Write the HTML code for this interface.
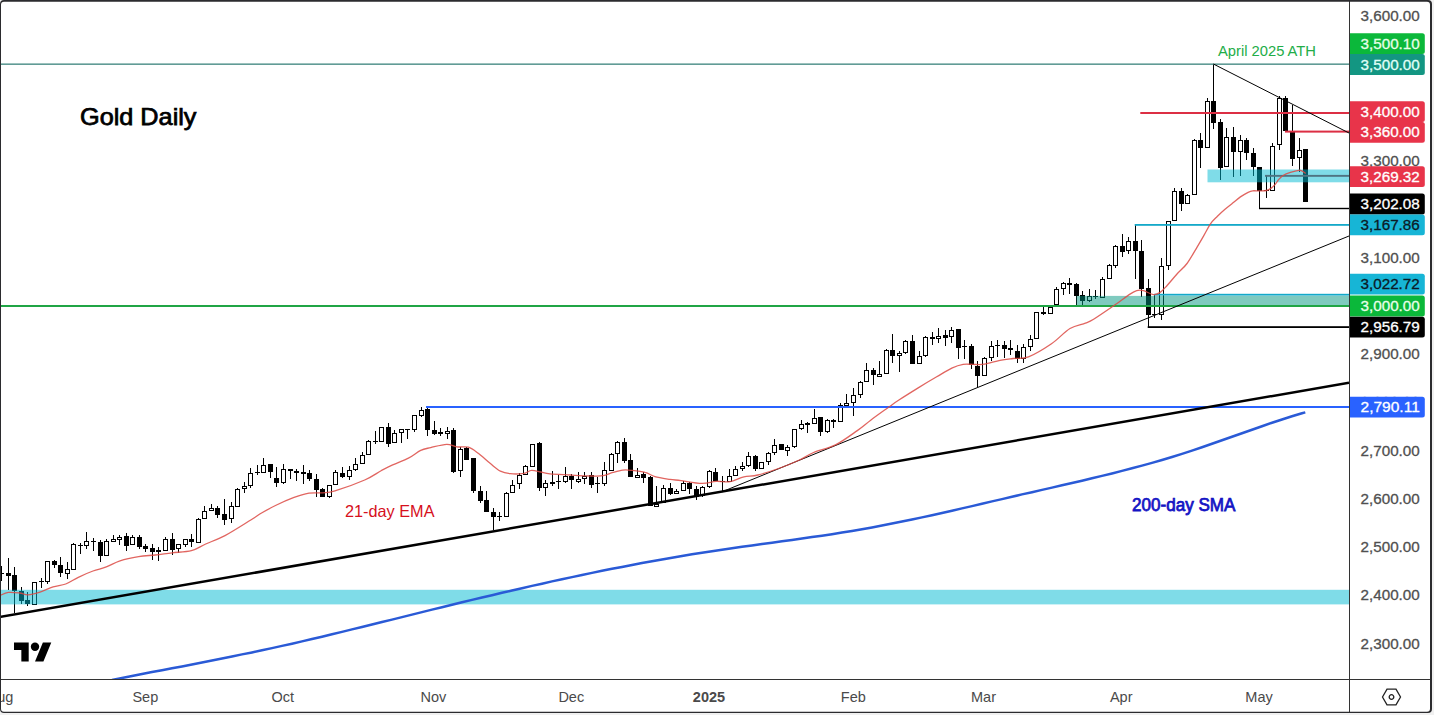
<!DOCTYPE html>
<html><head><meta charset="utf-8"><title>Gold Daily</title>
<style>html,body{margin:0;padding:0;background:#fff;} body{width:1434px;height:715px;overflow:hidden;font-family:"Liberation Sans", sans-serif;} svg{display:block;}</style>
</head><body>
<svg width="1434" height="715" viewBox="0 0 1434 715" font-family='"Liberation Sans", sans-serif'>
<rect width="1434" height="715" fill="#f0f0f0"/>
<rect x="0" y="0" width="1432" height="713" rx="4" fill="#fff"/>
<defs><clipPath id="cp"><rect x="1" y="2" width="1348" height="677"/></clipPath></defs>
<g clip-path="url(#cp)">
<g shape-rendering="crispEdges">
<rect x="1" y="566.2" width="1" height="14.5" fill="#000"/>
<rect x="-1" y="572.7" width="5" height="1.3" fill="#000"/>
<rect x="8" y="558.0" width="1" height="32.3" fill="#000"/>
<rect x="6" y="573.0" width="5" height="2.6" fill="#000"/>
<rect x="14" y="567.2" width="1" height="45.6" fill="#000"/>
<rect x="12" y="575.2" width="5" height="16.0" fill="#000"/>
<rect x="21" y="587.1" width="1" height="17.3" fill="#000"/>
<rect x="19" y="591.2" width="5" height="9.4" fill="#000"/>
<rect x="27" y="592.2" width="1" height="13.4" fill="#000"/>
<rect x="25" y="600.3" width="5" height="4.1" fill="#000"/>
<rect x="34" y="582.2" width="1" height="22.3" fill="#000"/>
<rect x="32.5" y="582.7" width="4" height="21.3" fill="#fff" stroke="#000" stroke-width="1"/>
<rect x="41" y="578.0" width="1" height="9.8" fill="#000"/>
<rect x="39" y="581.0" width="5" height="1.3" fill="#000"/>
<rect x="47" y="561.3" width="1" height="22.3" fill="#000"/>
<rect x="45.5" y="561.8" width="4" height="19.2" fill="#fff" stroke="#000" stroke-width="1"/>
<rect x="54" y="559.6" width="1" height="8.0" fill="#000"/>
<rect x="52" y="561.0" width="5" height="3.5" fill="#000"/>
<rect x="60" y="557.0" width="1" height="19.6" fill="#000"/>
<rect x="58" y="564.5" width="5" height="8.9" fill="#000"/>
<rect x="67" y="562.0" width="1" height="17.4" fill="#000"/>
<rect x="65.5" y="569.7" width="4" height="3.4" fill="#fff" stroke="#000" stroke-width="1"/>
<rect x="73" y="543.0" width="1" height="27.3" fill="#000"/>
<rect x="71.5" y="544.5" width="4" height="24.6" fill="#fff" stroke="#000" stroke-width="1"/>
<rect x="80" y="543.0" width="1" height="10.6" fill="#000"/>
<rect x="78" y="544.5" width="5" height="1.3" fill="#000"/>
<rect x="86" y="532.3" width="1" height="16.4" fill="#000"/>
<rect x="84.5" y="541.8" width="4" height="3.2" fill="#fff" stroke="#000" stroke-width="1"/>
<rect x="93" y="538.0" width="1" height="12.8" fill="#000"/>
<rect x="91" y="540.5" width="5" height="1.3" fill="#000"/>
<rect x="100" y="540.3" width="1" height="21.4" fill="#000"/>
<rect x="98" y="541.7" width="5" height="14.0" fill="#000"/>
<rect x="106" y="539.3" width="1" height="16.4" fill="#000"/>
<rect x="104.5" y="541.8" width="4" height="13.4" fill="#fff" stroke="#000" stroke-width="1"/>
<rect x="113" y="535.3" width="1" height="7.0" fill="#000"/>
<rect x="111.5" y="539.5" width="4" height="2.0" fill="#fff" stroke="#000" stroke-width="1"/>
<rect x="119" y="535.3" width="1" height="10.1" fill="#000"/>
<rect x="117.5" y="537.0" width="4" height="2.3" fill="#fff" stroke="#000" stroke-width="1"/>
<rect x="126" y="533.0" width="1" height="17.7" fill="#000"/>
<rect x="124" y="536.0" width="5" height="9.7" fill="#000"/>
<rect x="132" y="534.5" width="1" height="10.9" fill="#000"/>
<rect x="130.5" y="537.5" width="4" height="7.4" fill="#fff" stroke="#000" stroke-width="1"/>
<rect x="139" y="535.3" width="1" height="14.1" fill="#000"/>
<rect x="137" y="537.0" width="5" height="9.5" fill="#000"/>
<rect x="145" y="544.4" width="1" height="7.2" fill="#000"/>
<rect x="143" y="545.7" width="5" height="3.0" fill="#000"/>
<rect x="152" y="544.4" width="1" height="15.6" fill="#000"/>
<rect x="150" y="548.2" width="5" height="3.4" fill="#000"/>
<rect x="158" y="547.4" width="1" height="13.4" fill="#000"/>
<rect x="156" y="550.2" width="5" height="1.3" fill="#000"/>
<rect x="165" y="536.5" width="1" height="14.2" fill="#000"/>
<rect x="163.5" y="539.5" width="4" height="10.7" fill="#fff" stroke="#000" stroke-width="1"/>
<rect x="172" y="533.1" width="1" height="21.9" fill="#000"/>
<rect x="170" y="539.3" width="5" height="10.6" fill="#000"/>
<rect x="178" y="544.4" width="1" height="8.9" fill="#000"/>
<rect x="176.5" y="544.9" width="4" height="3.6" fill="#fff" stroke="#000" stroke-width="1"/>
<rect x="185" y="539.3" width="1" height="7.5" fill="#000"/>
<rect x="183.5" y="539.8" width="4" height="4.3" fill="#fff" stroke="#000" stroke-width="1"/>
<rect x="191" y="534.3" width="1" height="12.2" fill="#000"/>
<rect x="189" y="539.0" width="5" height="3.3" fill="#000"/>
<rect x="198" y="518.0" width="1" height="24.7" fill="#000"/>
<rect x="196.5" y="519.4" width="4" height="22.8" fill="#fff" stroke="#000" stroke-width="1"/>
<rect x="204" y="506.3" width="1" height="13.1" fill="#000"/>
<rect x="202.5" y="511.0" width="4" height="7.9" fill="#fff" stroke="#000" stroke-width="1"/>
<rect x="211" y="504.0" width="1" height="6.6" fill="#000"/>
<rect x="209.5" y="508.8" width="4" height="2.0" fill="#fff" stroke="#000" stroke-width="1"/>
<rect x="217" y="506.2" width="1" height="11.4" fill="#000"/>
<rect x="215" y="508.2" width="5" height="6.3" fill="#000"/>
<rect x="224" y="499.1" width="1" height="25.5" fill="#000"/>
<rect x="222" y="514.1" width="5" height="5.6" fill="#000"/>
<rect x="231" y="502.2" width="1" height="20.3" fill="#000"/>
<rect x="229.5" y="506.7" width="4" height="12.2" fill="#fff" stroke="#000" stroke-width="1"/>
<rect x="237" y="487.6" width="1" height="19.0" fill="#000"/>
<rect x="235.5" y="489.8" width="4" height="16.3" fill="#fff" stroke="#000" stroke-width="1"/>
<rect x="244" y="482.3" width="1" height="10.3" fill="#000"/>
<rect x="242.5" y="486.2" width="4" height="2.6" fill="#fff" stroke="#000" stroke-width="1"/>
<rect x="250" y="468.2" width="1" height="19.4" fill="#000"/>
<rect x="248.5" y="473.0" width="4" height="12.2" fill="#fff" stroke="#000" stroke-width="1"/>
<rect x="257" y="465.2" width="1" height="9.5" fill="#000"/>
<rect x="255" y="472.0" width="5" height="1.3" fill="#000"/>
<rect x="263" y="457.9" width="1" height="14.6" fill="#000"/>
<rect x="261.5" y="465.4" width="4" height="6.6" fill="#fff" stroke="#000" stroke-width="1"/>
<rect x="270" y="464.1" width="1" height="13.7" fill="#000"/>
<rect x="268" y="464.1" width="5" height="7.6" fill="#000"/>
<rect x="276" y="467.2" width="1" height="19.6" fill="#000"/>
<rect x="274" y="478.4" width="5" height="4.4" fill="#000"/>
<rect x="283" y="464.1" width="1" height="19.6" fill="#000"/>
<rect x="281.5" y="469.8" width="4" height="12.5" fill="#fff" stroke="#000" stroke-width="1"/>
<rect x="290" y="469.3" width="1" height="9.3" fill="#000"/>
<rect x="288" y="469.3" width="5" height="1.5" fill="#000"/>
<rect x="296" y="469.3" width="1" height="11.2" fill="#000"/>
<rect x="294" y="471.4" width="5" height="1.3" fill="#000"/>
<rect x="303" y="465.2" width="1" height="18.5" fill="#000"/>
<rect x="301" y="472.2" width="5" height="1.3" fill="#000"/>
<rect x="309" y="470.2" width="1" height="10.3" fill="#000"/>
<rect x="307" y="473.4" width="5" height="6.0" fill="#000"/>
<rect x="316" y="474.1" width="1" height="22.4" fill="#000"/>
<rect x="314" y="479.2" width="5" height="10.6" fill="#000"/>
<rect x="322" y="487.6" width="1" height="8.9" fill="#000"/>
<rect x="320" y="489.3" width="5" height="7.2" fill="#000"/>
<rect x="329" y="484.6" width="1" height="13.1" fill="#000"/>
<rect x="327.5" y="485.8" width="4" height="10.2" fill="#fff" stroke="#000" stroke-width="1"/>
<rect x="335" y="470.3" width="1" height="15.0" fill="#000"/>
<rect x="333.5" y="472.7" width="4" height="12.1" fill="#fff" stroke="#000" stroke-width="1"/>
<rect x="342" y="467.2" width="1" height="10.6" fill="#000"/>
<rect x="340" y="472.5" width="5" height="4.5" fill="#000"/>
<rect x="349" y="466.3" width="1" height="13.7" fill="#000"/>
<rect x="347.5" y="470.1" width="4" height="6.1" fill="#fff" stroke="#000" stroke-width="1"/>
<rect x="355" y="458.2" width="1" height="12.3" fill="#000"/>
<rect x="353.5" y="464.1" width="4" height="5.4" fill="#fff" stroke="#000" stroke-width="1"/>
<rect x="362" y="452.0" width="1" height="11.6" fill="#000"/>
<rect x="360.5" y="455.0" width="4" height="8.1" fill="#fff" stroke="#000" stroke-width="1"/>
<rect x="368" y="440.3" width="1" height="14.2" fill="#000"/>
<rect x="366.5" y="441.9" width="4" height="12.1" fill="#fff" stroke="#000" stroke-width="1"/>
<rect x="375" y="431.1" width="1" height="12.6" fill="#000"/>
<rect x="373" y="441.1" width="5" height="1.3" fill="#000"/>
<rect x="381" y="427.4" width="1" height="14.2" fill="#000"/>
<rect x="379.5" y="427.9" width="4" height="13.2" fill="#fff" stroke="#000" stroke-width="1"/>
<rect x="388" y="423.3" width="1" height="23.5" fill="#000"/>
<rect x="386" y="427.4" width="5" height="16.3" fill="#000"/>
<rect x="394" y="430.2" width="1" height="13.2" fill="#000"/>
<rect x="392.5" y="433.9" width="4" height="9.0" fill="#fff" stroke="#000" stroke-width="1"/>
<rect x="401" y="428.5" width="1" height="14.3" fill="#000"/>
<rect x="399.5" y="429.0" width="4" height="3.9" fill="#fff" stroke="#000" stroke-width="1"/>
<rect x="407" y="428.5" width="1" height="10.5" fill="#000"/>
<rect x="405" y="428.5" width="5" height="1.9" fill="#000"/>
<rect x="414" y="415.1" width="1" height="16.5" fill="#000"/>
<rect x="412.5" y="415.6" width="4" height="14.3" fill="#fff" stroke="#000" stroke-width="1"/>
<rect x="421" y="407.3" width="1" height="9.5" fill="#000"/>
<rect x="419.5" y="410.0" width="4" height="5.2" fill="#fff" stroke="#000" stroke-width="1"/>
<rect x="427" y="407.8" width="1" height="28.0" fill="#000"/>
<rect x="425" y="409.2" width="5" height="21.2" fill="#000"/>
<rect x="434" y="421.0" width="1" height="13.5" fill="#000"/>
<rect x="432" y="430.2" width="5" height="3.4" fill="#000"/>
<rect x="440" y="428.2" width="1" height="7.6" fill="#000"/>
<rect x="438" y="432.2" width="5" height="1.3" fill="#000"/>
<rect x="447" y="427.1" width="1" height="11.5" fill="#000"/>
<rect x="445.5" y="431.3" width="4" height="2.0" fill="#fff" stroke="#000" stroke-width="1"/>
<rect x="453" y="427.6" width="1" height="45.8" fill="#000"/>
<rect x="451" y="430.4" width="5" height="41.3" fill="#000"/>
<rect x="460" y="446.9" width="1" height="30.5" fill="#000"/>
<rect x="458.5" y="449.0" width="4" height="21.7" fill="#fff" stroke="#000" stroke-width="1"/>
<rect x="466" y="446.5" width="1" height="13.8" fill="#000"/>
<rect x="464" y="448.2" width="5" height="12.1" fill="#000"/>
<rect x="473" y="458.3" width="1" height="34.7" fill="#000"/>
<rect x="471" y="458.3" width="5" height="32.2" fill="#000"/>
<rect x="480" y="486.3" width="1" height="16.8" fill="#000"/>
<rect x="478" y="490.5" width="5" height="10.1" fill="#000"/>
<rect x="486" y="490.5" width="1" height="21.8" fill="#000"/>
<rect x="484" y="500.2" width="5" height="12.1" fill="#000"/>
<rect x="493" y="508.1" width="1" height="21.8" fill="#000"/>
<rect x="491" y="512.3" width="5" height="4.2" fill="#000"/>
<rect x="499" y="511.5" width="1" height="9.2" fill="#000"/>
<rect x="497" y="515.7" width="5" height="1.3" fill="#000"/>
<rect x="506" y="492.2" width="1" height="25.1" fill="#000"/>
<rect x="504.5" y="493.8" width="4" height="23.0" fill="#fff" stroke="#000" stroke-width="1"/>
<rect x="512" y="480.4" width="1" height="12.9" fill="#000"/>
<rect x="510.5" y="485.1" width="4" height="7.7" fill="#fff" stroke="#000" stroke-width="1"/>
<rect x="519" y="472.9" width="1" height="15.9" fill="#000"/>
<rect x="517.5" y="475.9" width="4" height="7.9" fill="#fff" stroke="#000" stroke-width="1"/>
<rect x="525" y="464.5" width="1" height="10.9" fill="#000"/>
<rect x="523.5" y="466.7" width="4" height="8.2" fill="#fff" stroke="#000" stroke-width="1"/>
<rect x="532" y="443.5" width="1" height="23.2" fill="#000"/>
<rect x="530.5" y="444.0" width="4" height="22.2" fill="#fff" stroke="#000" stroke-width="1"/>
<rect x="539" y="441.5" width="1" height="49.8" fill="#000"/>
<rect x="537" y="443.2" width="5" height="44.8" fill="#000"/>
<rect x="545" y="479.6" width="1" height="16.8" fill="#000"/>
<rect x="543.5" y="483.9" width="4" height="3.1" fill="#fff" stroke="#000" stroke-width="1"/>
<rect x="552" y="471.0" width="1" height="14.5" fill="#000"/>
<rect x="550" y="482.4" width="5" height="1.3" fill="#000"/>
<rect x="558" y="475.2" width="1" height="13.3" fill="#000"/>
<rect x="556" y="480.8" width="5" height="1.3" fill="#000"/>
<rect x="565" y="467.3" width="1" height="15.4" fill="#000"/>
<rect x="563.5" y="476.2" width="4" height="4.8" fill="#fff" stroke="#000" stroke-width="1"/>
<rect x="571" y="474.3" width="1" height="14.2" fill="#000"/>
<rect x="569" y="476.0" width="5" height="4.4" fill="#000"/>
<rect x="578" y="472.0" width="1" height="10.7" fill="#000"/>
<rect x="576.5" y="479.0" width="4" height="2.0" fill="#fff" stroke="#000" stroke-width="1"/>
<rect x="584" y="472.0" width="1" height="11.6" fill="#000"/>
<rect x="582.5" y="476.5" width="4" height="2.0" fill="#fff" stroke="#000" stroke-width="1"/>
<rect x="591" y="472.0" width="1" height="15.8" fill="#000"/>
<rect x="589" y="475.2" width="5" height="9.4" fill="#000"/>
<rect x="597" y="477.3" width="1" height="15.4" fill="#000"/>
<rect x="595" y="483.1" width="5" height="1.3" fill="#000"/>
<rect x="604" y="462.0" width="1" height="23.7" fill="#000"/>
<rect x="602.5" y="470.6" width="4" height="12.5" fill="#fff" stroke="#000" stroke-width="1"/>
<rect x="611" y="453.3" width="1" height="17.3" fill="#000"/>
<rect x="609.5" y="454.3" width="4" height="15.8" fill="#fff" stroke="#000" stroke-width="1"/>
<rect x="617" y="441.3" width="1" height="21.4" fill="#000"/>
<rect x="615.5" y="442.6" width="4" height="11.2" fill="#fff" stroke="#000" stroke-width="1"/>
<rect x="624" y="437.9" width="1" height="24.8" fill="#000"/>
<rect x="622" y="442.1" width="5" height="18.7" fill="#000"/>
<rect x="630" y="454.3" width="1" height="22.3" fill="#000"/>
<rect x="628" y="460.3" width="5" height="16.3" fill="#000"/>
<rect x="637" y="468.3" width="1" height="9.3" fill="#000"/>
<rect x="635.5" y="475.0" width="4" height="2.0" fill="#fff" stroke="#000" stroke-width="1"/>
<rect x="643" y="472.4" width="1" height="10.3" fill="#000"/>
<rect x="641" y="474.3" width="5" height="3.3" fill="#000"/>
<rect x="650" y="475.7" width="1" height="30.7" fill="#000"/>
<rect x="648" y="477.1" width="5" height="29.3" fill="#000"/>
<rect x="656" y="486.4" width="1" height="20.0" fill="#000"/>
<rect x="654.5" y="504.1" width="4" height="2.0" fill="#fff" stroke="#000" stroke-width="1"/>
<rect x="663" y="484.5" width="1" height="18.5" fill="#000"/>
<rect x="661.5" y="488.8" width="4" height="13.2" fill="#fff" stroke="#000" stroke-width="1"/>
<rect x="670" y="483.4" width="1" height="11.2" fill="#000"/>
<rect x="668" y="488.3" width="5" height="5.6" fill="#000"/>
<rect x="676" y="489.4" width="1" height="3.8" fill="#000"/>
<rect x="674.5" y="491.6" width="4" height="2.0" fill="#fff" stroke="#000" stroke-width="1"/>
<rect x="683" y="480.6" width="1" height="10.5" fill="#000"/>
<rect x="681.5" y="483.9" width="4" height="6.7" fill="#fff" stroke="#000" stroke-width="1"/>
<rect x="689" y="481.6" width="1" height="12.0" fill="#000"/>
<rect x="687" y="483.0" width="5" height="6.4" fill="#000"/>
<rect x="696" y="486.2" width="1" height="14.0" fill="#000"/>
<rect x="694" y="489.4" width="5" height="7.3" fill="#000"/>
<rect x="702" y="486.2" width="1" height="11.2" fill="#000"/>
<rect x="700.5" y="487.7" width="4" height="7.8" fill="#fff" stroke="#000" stroke-width="1"/>
<rect x="709" y="470.4" width="1" height="17.9" fill="#000"/>
<rect x="707.5" y="471.8" width="4" height="14.9" fill="#fff" stroke="#000" stroke-width="1"/>
<rect x="715" y="468.0" width="1" height="12.6" fill="#000"/>
<rect x="713" y="471.5" width="5" height="9.1" fill="#000"/>
<rect x="722" y="475.5" width="1" height="15.3" fill="#000"/>
<rect x="720" y="480.8" width="5" height="1.3" fill="#000"/>
<rect x="729" y="468.5" width="1" height="13.5" fill="#000"/>
<rect x="727.5" y="476.9" width="4" height="4.6" fill="#fff" stroke="#000" stroke-width="1"/>
<rect x="735" y="465.7" width="1" height="10.7" fill="#000"/>
<rect x="733.5" y="469.9" width="4" height="6.0" fill="#fff" stroke="#000" stroke-width="1"/>
<rect x="742" y="461.5" width="1" height="9.8" fill="#000"/>
<rect x="740.5" y="466.2" width="4" height="2.7" fill="#fff" stroke="#000" stroke-width="1"/>
<rect x="748" y="452.2" width="1" height="14.9" fill="#000"/>
<rect x="746.5" y="456.7" width="4" height="8.8" fill="#fff" stroke="#000" stroke-width="1"/>
<rect x="755" y="454.5" width="1" height="16.8" fill="#000"/>
<rect x="753" y="456.2" width="5" height="13.2" fill="#000"/>
<rect x="761" y="462.0" width="1" height="7.4" fill="#000"/>
<rect x="759.5" y="462.5" width="4" height="6.4" fill="#fff" stroke="#000" stroke-width="1"/>
<rect x="768" y="452.0" width="1" height="13.2" fill="#000"/>
<rect x="766.5" y="453.6" width="4" height="8.3" fill="#fff" stroke="#000" stroke-width="1"/>
<rect x="774" y="439.4" width="1" height="15.9" fill="#000"/>
<rect x="772.5" y="445.1" width="4" height="7.7" fill="#fff" stroke="#000" stroke-width="1"/>
<rect x="781" y="444.4" width="1" height="6.0" fill="#000"/>
<rect x="779" y="444.4" width="5" height="6.0" fill="#000"/>
<rect x="787" y="444.9" width="1" height="10.6" fill="#000"/>
<rect x="785.5" y="447.9" width="4" height="2.4" fill="#fff" stroke="#000" stroke-width="1"/>
<rect x="794" y="429.3" width="1" height="19.0" fill="#000"/>
<rect x="792.5" y="429.8" width="4" height="17.1" fill="#fff" stroke="#000" stroke-width="1"/>
<rect x="801" y="420.2" width="1" height="10.1" fill="#000"/>
<rect x="799.5" y="424.9" width="4" height="3.9" fill="#fff" stroke="#000" stroke-width="1"/>
<rect x="807" y="422.2" width="1" height="11.0" fill="#000"/>
<rect x="805" y="423.4" width="5" height="1.3" fill="#000"/>
<rect x="814" y="409.2" width="1" height="15.1" fill="#000"/>
<rect x="812.5" y="418.0" width="4" height="5.8" fill="#fff" stroke="#000" stroke-width="1"/>
<rect x="820" y="416.9" width="1" height="18.8" fill="#000"/>
<rect x="818" y="416.9" width="5" height="14.6" fill="#000"/>
<rect x="827" y="419.2" width="1" height="14.0" fill="#000"/>
<rect x="825.5" y="420.7" width="4" height="10.8" fill="#fff" stroke="#000" stroke-width="1"/>
<rect x="833" y="418.9" width="1" height="9.2" fill="#000"/>
<rect x="831" y="420.2" width="5" height="2.0" fill="#000"/>
<rect x="840" y="403.4" width="1" height="18.8" fill="#000"/>
<rect x="838.5" y="405.6" width="4" height="16.1" fill="#fff" stroke="#000" stroke-width="1"/>
<rect x="846" y="394.0" width="1" height="11.5" fill="#000"/>
<rect x="844.5" y="403.9" width="4" height="2.0" fill="#fff" stroke="#000" stroke-width="1"/>
<rect x="853" y="388.3" width="1" height="27.2" fill="#000"/>
<rect x="851.5" y="395.6" width="4" height="7.3" fill="#fff" stroke="#000" stroke-width="1"/>
<rect x="860" y="381.1" width="1" height="17.3" fill="#000"/>
<rect x="858.5" y="382.5" width="4" height="12.1" fill="#fff" stroke="#000" stroke-width="1"/>
<rect x="866" y="363.2" width="1" height="18.8" fill="#000"/>
<rect x="864.5" y="370.7" width="4" height="10.8" fill="#fff" stroke="#000" stroke-width="1"/>
<rect x="873" y="367.7" width="1" height="17.6" fill="#000"/>
<rect x="871" y="370.2" width="5" height="5.0" fill="#000"/>
<rect x="879" y="361.0" width="1" height="14.6" fill="#000"/>
<rect x="877.5" y="374.1" width="4" height="2.0" fill="#fff" stroke="#000" stroke-width="1"/>
<rect x="886" y="349.2" width="1" height="25.2" fill="#000"/>
<rect x="884.5" y="350.7" width="4" height="22.8" fill="#fff" stroke="#000" stroke-width="1"/>
<rect x="892" y="333.9" width="1" height="28.7" fill="#000"/>
<rect x="890" y="350.3" width="5" height="5.3" fill="#000"/>
<rect x="899" y="350.6" width="1" height="21.1" fill="#000"/>
<rect x="897.5" y="353.1" width="4" height="2.0" fill="#fff" stroke="#000" stroke-width="1"/>
<rect x="905" y="340.2" width="1" height="13.3" fill="#000"/>
<rect x="903.5" y="341.4" width="4" height="10.9" fill="#fff" stroke="#000" stroke-width="1"/>
<rect x="912" y="335.2" width="1" height="29.2" fill="#000"/>
<rect x="910" y="341.2" width="5" height="23.0" fill="#000"/>
<rect x="919" y="351.3" width="1" height="13.1" fill="#000"/>
<rect x="917.5" y="356.1" width="4" height="7.3" fill="#fff" stroke="#000" stroke-width="1"/>
<rect x="925" y="336.4" width="1" height="20.8" fill="#000"/>
<rect x="923.5" y="337.6" width="4" height="17.5" fill="#fff" stroke="#000" stroke-width="1"/>
<rect x="932" y="332.4" width="1" height="12.2" fill="#000"/>
<rect x="930" y="337.2" width="5" height="1.3" fill="#000"/>
<rect x="938" y="328.3" width="1" height="14.2" fill="#000"/>
<rect x="936.5" y="336.3" width="4" height="2.0" fill="#fff" stroke="#000" stroke-width="1"/>
<rect x="945" y="330.2" width="1" height="15.3" fill="#000"/>
<rect x="943" y="335.4" width="5" height="2.1" fill="#000"/>
<rect x="951" y="327.4" width="1" height="16.0" fill="#000"/>
<rect x="949.5" y="330.0" width="4" height="6.6" fill="#fff" stroke="#000" stroke-width="1"/>
<rect x="958" y="328.6" width="1" height="30.8" fill="#000"/>
<rect x="956" y="328.9" width="5" height="18.6" fill="#000"/>
<rect x="964" y="340.2" width="1" height="18.3" fill="#000"/>
<rect x="962" y="346.0" width="5" height="1.3" fill="#000"/>
<rect x="971" y="344.0" width="1" height="25.2" fill="#000"/>
<rect x="969" y="345.9" width="5" height="19.3" fill="#000"/>
<rect x="977" y="361.4" width="1" height="25.4" fill="#000"/>
<rect x="975" y="366.0" width="5" height="9.5" fill="#000"/>
<rect x="984" y="357.2" width="1" height="18.3" fill="#000"/>
<rect x="982.5" y="358.4" width="4" height="16.6" fill="#fff" stroke="#000" stroke-width="1"/>
<rect x="991" y="340.9" width="1" height="20.5" fill="#000"/>
<rect x="989.5" y="346.9" width="4" height="10.9" fill="#fff" stroke="#000" stroke-width="1"/>
<rect x="997" y="340.0" width="1" height="16.6" fill="#000"/>
<rect x="995" y="344.8" width="5" height="1.3" fill="#000"/>
<rect x="1004" y="341.2" width="1" height="16.5" fill="#000"/>
<rect x="1002" y="345.4" width="5" height="3.8" fill="#000"/>
<rect x="1010" y="340.0" width="1" height="15.4" fill="#000"/>
<rect x="1008" y="348.4" width="5" height="1.3" fill="#000"/>
<rect x="1017" y="345.4" width="1" height="17.7" fill="#000"/>
<rect x="1015" y="350.5" width="5" height="8.0" fill="#000"/>
<rect x="1023" y="344.3" width="1" height="18.8" fill="#000"/>
<rect x="1021.5" y="347.9" width="4" height="10.1" fill="#fff" stroke="#000" stroke-width="1"/>
<rect x="1030" y="335.4" width="1" height="15.1" fill="#000"/>
<rect x="1028.5" y="339.0" width="4" height="7.9" fill="#fff" stroke="#000" stroke-width="1"/>
<rect x="1036" y="311.5" width="1" height="27.0" fill="#000"/>
<rect x="1034.5" y="312.0" width="4" height="26.0" fill="#fff" stroke="#000" stroke-width="1"/>
<rect x="1043" y="304.6" width="1" height="10.8" fill="#000"/>
<rect x="1041" y="311.5" width="5" height="2.3" fill="#000"/>
<rect x="1050" y="306.9" width="1" height="7.3" fill="#000"/>
<rect x="1048.5" y="307.4" width="4" height="5.9" fill="#fff" stroke="#000" stroke-width="1"/>
<rect x="1056" y="287.4" width="1" height="17.5" fill="#000"/>
<rect x="1054.5" y="289.7" width="4" height="14.7" fill="#fff" stroke="#000" stroke-width="1"/>
<rect x="1063" y="281.5" width="1" height="13.1" fill="#000"/>
<rect x="1061.5" y="283.9" width="4" height="4.8" fill="#fff" stroke="#000" stroke-width="1"/>
<rect x="1069" y="278.2" width="1" height="15.3" fill="#000"/>
<rect x="1067" y="283.3" width="5" height="1.3" fill="#000"/>
<rect x="1076" y="283.0" width="1" height="21.9" fill="#000"/>
<rect x="1074" y="283.8" width="5" height="11.9" fill="#000"/>
<rect x="1082" y="290.5" width="1" height="14.1" fill="#000"/>
<rect x="1080" y="295.2" width="5" height="5.6" fill="#000"/>
<rect x="1089" y="289.2" width="1" height="12.6" fill="#000"/>
<rect x="1087.5" y="296.7" width="4" height="3.6" fill="#fff" stroke="#000" stroke-width="1"/>
<rect x="1095" y="290.0" width="1" height="9.2" fill="#000"/>
<rect x="1093" y="295.7" width="5" height="1.3" fill="#000"/>
<rect x="1102" y="277.2" width="1" height="20.4" fill="#000"/>
<rect x="1100.5" y="279.5" width="4" height="17.6" fill="#fff" stroke="#000" stroke-width="1"/>
<rect x="1109" y="264.0" width="1" height="15.0" fill="#000"/>
<rect x="1107.5" y="265.6" width="4" height="12.9" fill="#fff" stroke="#000" stroke-width="1"/>
<rect x="1115" y="244.5" width="1" height="23.3" fill="#000"/>
<rect x="1113.5" y="246.5" width="4" height="18.5" fill="#fff" stroke="#000" stroke-width="1"/>
<rect x="1122" y="233.9" width="1" height="23.2" fill="#000"/>
<rect x="1120" y="245.9" width="5" height="5.6" fill="#000"/>
<rect x="1128" y="237.1" width="1" height="16.8" fill="#000"/>
<rect x="1126.5" y="241.4" width="4" height="9.3" fill="#fff" stroke="#000" stroke-width="1"/>
<rect x="1135" y="225.2" width="1" height="53.8" fill="#000"/>
<rect x="1133" y="240.9" width="5" height="10.3" fill="#000"/>
<rect x="1141" y="240.0" width="1" height="57.3" fill="#000"/>
<rect x="1139" y="251.2" width="5" height="37.4" fill="#000"/>
<rect x="1148" y="279.1" width="1" height="48.2" fill="#000"/>
<rect x="1146" y="288.2" width="5" height="26.3" fill="#000"/>
<rect x="1154" y="294.5" width="1" height="23.2" fill="#000"/>
<rect x="1152" y="314.0" width="5" height="1.3" fill="#000"/>
<rect x="1161" y="258.4" width="1" height="61.1" fill="#000"/>
<rect x="1159.5" y="266.7" width="4" height="47.3" fill="#fff" stroke="#000" stroke-width="1"/>
<rect x="1168" y="221.4" width="1" height="48.6" fill="#000"/>
<rect x="1166.5" y="221.9" width="4" height="43.8" fill="#fff" stroke="#000" stroke-width="1"/>
<rect x="1174" y="187.8" width="1" height="33.6" fill="#000"/>
<rect x="1172.5" y="191.7" width="4" height="29.2" fill="#fff" stroke="#000" stroke-width="1"/>
<rect x="1181" y="187.8" width="1" height="23.5" fill="#000"/>
<rect x="1179" y="191.2" width="5" height="13.0" fill="#000"/>
<rect x="1187" y="193.5" width="1" height="10.6" fill="#000"/>
<rect x="1185.5" y="195.7" width="4" height="7.9" fill="#fff" stroke="#000" stroke-width="1"/>
<rect x="1194" y="139.3" width="1" height="55.9" fill="#000"/>
<rect x="1192.5" y="140.5" width="4" height="54.2" fill="#fff" stroke="#000" stroke-width="1"/>
<rect x="1200" y="132.6" width="1" height="35.8" fill="#000"/>
<rect x="1198" y="140.0" width="5" height="8.3" fill="#000"/>
<rect x="1207" y="98.0" width="1" height="50.3" fill="#000"/>
<rect x="1205.5" y="101.7" width="4" height="46.1" fill="#fff" stroke="#000" stroke-width="1"/>
<rect x="1213" y="64.0" width="1" height="64.5" fill="#000"/>
<rect x="1211" y="100.8" width="5" height="21.7" fill="#000"/>
<rect x="1220" y="119.2" width="1" height="60.4" fill="#000"/>
<rect x="1218" y="122.1" width="5" height="45.6" fill="#000"/>
<rect x="1226" y="128.2" width="1" height="39.1" fill="#000"/>
<rect x="1224.5" y="137.6" width="4" height="29.2" fill="#fff" stroke="#000" stroke-width="1"/>
<rect x="1233" y="127.0" width="1" height="50.3" fill="#000"/>
<rect x="1231" y="137.1" width="5" height="15.0" fill="#000"/>
<rect x="1240" y="134.9" width="1" height="40.9" fill="#000"/>
<rect x="1238.5" y="140.5" width="4" height="11.1" fill="#fff" stroke="#000" stroke-width="1"/>
<rect x="1246" y="138.2" width="1" height="21.9" fill="#000"/>
<rect x="1244" y="140.0" width="5" height="13.4" fill="#000"/>
<rect x="1253" y="148.1" width="1" height="28.2" fill="#000"/>
<rect x="1251" y="153.4" width="5" height="13.7" fill="#000"/>
<rect x="1259" y="167.1" width="1" height="41.3" fill="#000"/>
<rect x="1257" y="167.1" width="5" height="23.9" fill="#000"/>
<rect x="1266" y="176.2" width="1" height="21.5" fill="#000"/>
<rect x="1264" y="189.9" width="5" height="1.3" fill="#000"/>
<rect x="1272" y="143.0" width="1" height="47.8" fill="#000"/>
<rect x="1270.5" y="146.1" width="4" height="44.2" fill="#fff" stroke="#000" stroke-width="1"/>
<rect x="1279" y="96.0" width="1" height="53.5" fill="#000"/>
<rect x="1277.5" y="98.5" width="4" height="46.0" fill="#fff" stroke="#000" stroke-width="1"/>
<rect x="1285" y="96.0" width="1" height="34.5" fill="#000"/>
<rect x="1283" y="98.0" width="5" height="32.5" fill="#000"/>
<rect x="1292" y="105.0" width="1" height="60.7" fill="#000"/>
<rect x="1290" y="130.5" width="5" height="28.1" fill="#000"/>
<rect x="1299" y="138.1" width="1" height="34.1" fill="#000"/>
<rect x="1297.5" y="150.1" width="4" height="7.7" fill="#fff" stroke="#000" stroke-width="1"/>
<rect x="1305" y="149.0" width="1" height="52.9" fill="#000"/>
<rect x="1303" y="149.0" width="5" height="52.9" fill="#000"/>
</g>
<rect x="0" y="589.8" width="1349" height="14.6" fill="rgb(0,185,209)" fill-opacity="0.5"/>
<rect x="1207.5" y="169.5" width="142" height="12.8" fill="rgb(0,185,209)" fill-opacity="0.5"/>
<rect x="1076.5" y="295.9" width="273" height="9.6" fill="rgb(0,150,128)" fill-opacity="0.5"/>
<rect x="0" y="63.5" width="1349" height="1.3" fill="#3b837d"/>
<rect x="0" y="305" width="1349" height="2" fill="#20a545"/>
<rect x="426" y="406" width="923" height="2" fill="#2962ff"/>
<rect x="1140.3" y="112" width="209" height="2" fill="#dc2f44"/>
<rect x="1285" y="130.6" width="64" height="2" fill="#dc2f44"/>
<rect x="1265" y="174.9" width="84" height="1.9" fill="#4e7482"/>
<rect x="1259" y="207.8" width="90" height="1.4" fill="#000"/>
<rect x="1134.7" y="224" width="214.3" height="1.8" fill="#14a9c9"/>
<rect x="1154" y="293.8" width="195" height="1.8" fill="#14a9c9"/>
<rect x="1147.7" y="326.2" width="201.3" height="1.8" fill="#000"/>
<line x1="0" y1="617" x2="1349" y2="382.7" stroke="#000" stroke-width="2.5"/>
<line x1="722" y1="491.8" x2="1349" y2="236" stroke="#000" stroke-width="1"/>
<line x1="1213.4" y1="64" x2="1349" y2="133" stroke="#000" stroke-width="1"/>
<polyline points="112.0,679.9 122.0,678.0 132.0,676.0 142.0,674.1 152.0,672.1 162.0,670.2 172.0,668.3 182.0,666.4 192.0,664.4 202.0,662.5 212.0,660.5 222.0,658.5 232.0,656.5 242.0,654.4 252.0,652.4 262.0,650.2 272.0,648.1 282.0,645.9 292.0,643.7 302.0,641.4 312.0,639.0 322.0,636.7 332.0,634.3 342.0,631.9 352.0,629.4 362.0,627.0 372.0,624.5 382.0,622.0 392.0,619.6 402.0,617.1 412.0,614.6 422.0,612.1 432.0,609.6 442.0,607.2 452.0,604.7 462.0,602.3 472.0,599.9 482.0,597.5 492.0,595.2 502.0,592.8 512.0,590.5 522.0,588.2 532.0,585.9 542.0,583.7 552.0,581.4 562.0,579.2 572.0,577.1 582.0,575.0 592.0,572.9 602.0,570.8 612.0,568.8 622.0,566.9 632.0,564.9 642.0,563.0 652.0,561.2 662.0,559.4 672.0,557.7 682.0,556.0 692.0,554.3 702.0,552.7 712.0,551.2 722.0,549.7 732.0,548.3 742.0,546.8 752.0,545.5 762.0,544.1 772.0,542.7 782.0,541.3 792.0,540.0 802.0,538.6 812.0,537.1 822.0,535.7 832.0,534.2 842.0,532.6 852.0,531.0 862.0,529.3 872.0,527.5 882.0,525.6 892.0,523.6 902.0,521.6 912.0,519.5 922.0,517.4 932.0,515.2 942.0,513.0 952.0,510.7 962.0,508.4 972.0,506.1 982.0,503.7 992.0,501.4 1002.0,499.1 1012.0,496.8 1022.0,494.4 1032.0,492.2 1042.0,489.9 1052.0,487.6 1062.0,485.3 1072.0,483.0 1082.0,480.7 1092.0,478.3 1102.0,475.9 1112.0,473.5 1122.0,470.9 1132.0,468.3 1142.0,465.6 1152.0,462.9 1162.0,460.0 1172.0,457.0 1182.0,453.9 1192.0,450.6 1202.0,447.3 1212.0,443.8 1222.0,440.3 1232.0,436.7 1242.0,433.2 1252.0,429.7 1262.0,426.2 1272.0,422.8 1282.0,419.5 1292.0,416.3 1302.0,413.3 1305.3,412.4" fill="none" stroke="#2a5ad6" stroke-width="2.5" stroke-linejoin="round"/>
<path d="M0.0,595.5 C1.4,595.0 5.1,592.8 8.4,592.4 C11.7,592.0 16.3,592.6 19.6,593.0 C22.9,593.4 24.7,594.9 28.0,594.8 C31.3,594.7 35.0,593.7 39.2,592.4 C43.4,591.1 48.7,588.3 53.1,586.9 C57.5,585.5 61.5,585.6 65.7,584.0 C69.9,582.4 73.8,579.5 78.3,577.3 C82.8,575.1 88.3,572.7 93.0,571.0 C97.7,569.3 101.8,568.6 106.3,566.9 C110.8,565.2 114.6,562.5 120.0,560.8 C125.4,559.1 132.7,557.6 138.6,556.6 C144.5,555.6 149.7,555.6 155.3,555.0 C160.9,554.4 166.1,553.5 172.1,552.8 C178.1,552.1 185.8,552.2 191.4,550.7 C197.0,549.2 200.1,546.5 205.7,544.0 C211.3,541.5 217.5,539.6 225.0,535.6 C232.5,531.6 244.6,523.8 250.8,520.0 C257.0,516.2 257.9,515.2 262.0,512.8 C266.1,510.4 270.3,508.0 275.5,505.5 C280.7,503.0 287.8,499.8 293.4,497.7 C299.0,495.6 304.1,494.0 309.0,493.2 C313.9,492.4 318.2,493.2 322.5,492.8 C326.8,492.4 328.0,493.0 335.0,490.9 C342.0,488.8 356.9,483.4 364.7,480.0 C372.4,476.6 376.8,473.0 381.5,470.5 C386.2,468.0 388.2,466.9 392.7,464.9 C397.2,462.8 403.7,460.6 408.4,458.2 C413.1,455.8 417.0,452.2 420.7,450.4 C424.4,448.6 426.4,448.6 430.7,447.6 C435.0,446.6 442.3,444.4 446.7,444.3 C451.1,444.2 453.2,446.4 456.8,446.9 C460.4,447.4 464.9,446.1 468.5,447.2 C472.1,448.3 475.0,450.9 478.6,453.6 C482.2,456.3 486.8,460.7 490.4,463.6 C494.0,466.5 497.0,469.5 500.4,471.2 C503.8,472.9 506.6,473.3 510.5,473.7 C514.4,474.1 520.4,473.9 523.9,473.4 C527.4,472.8 528.7,470.6 531.5,470.4 C534.3,470.2 537.6,471.4 540.7,472.0 C543.8,472.6 545.0,473.3 550.0,473.8 C555.0,474.3 564.0,474.6 571.0,475.0 C578.0,475.4 586.6,475.9 592.0,476.0 C597.4,476.1 599.6,476.3 603.1,475.7 C606.6,475.1 609.7,473.3 613.0,472.4 C616.3,471.5 619.7,470.5 622.7,470.1 C625.7,469.8 627.4,469.9 631.1,470.3 C634.8,470.7 641.1,471.3 645.1,472.4 C649.1,473.4 650.8,475.4 654.9,476.6 C659.0,477.8 665.6,478.7 670.0,479.4 C674.4,480.1 675.7,479.9 681.0,480.6 C686.3,481.3 696.2,483.3 702.0,483.4 C707.8,483.5 711.3,481.6 716.0,481.3 C720.7,481.0 725.4,482.3 730.0,481.6 C734.6,480.9 739.2,478.0 743.9,476.9 C748.5,475.8 751.9,476.5 757.9,475.0 C763.9,473.5 773.1,470.5 780.0,468.0 C786.9,465.5 793.8,462.6 799.4,460.0 C805.0,457.4 807.6,455.0 813.6,452.5 C819.6,450.0 828.2,448.5 835.5,444.9 C842.8,441.2 851.4,434.7 857.3,430.6 C863.2,426.5 865.4,424.2 870.7,420.2 C876.0,416.2 884.5,410.2 889.2,406.8 C893.9,403.4 894.1,403.1 898.9,400.0 C903.7,396.9 911.5,392.0 917.8,388.1 C924.1,384.2 931.0,380.1 936.7,376.8 C942.4,373.5 947.4,370.3 951.8,368.2 C956.2,366.1 959.5,365.0 963.1,364.4 C966.7,363.8 969.6,364.4 973.2,364.4 C976.8,364.4 980.0,364.9 984.5,364.2 C989.0,363.5 995.2,361.3 1000.0,360.4 C1004.8,359.4 1008.2,359.1 1013.0,358.5 C1017.8,357.9 1022.1,359.3 1028.5,356.9 C1034.9,354.4 1044.6,348.5 1051.5,343.8 C1058.4,339.1 1064.3,331.9 1070.0,328.5 C1075.7,325.1 1081.5,324.7 1085.4,323.1 C1089.3,321.6 1088.9,322.1 1093.6,319.2 C1098.3,316.3 1107.6,309.9 1113.7,305.7 C1119.8,301.5 1126.2,296.6 1130.0,294.1 C1133.8,291.6 1134.5,291.2 1136.7,290.6 C1138.9,290.0 1140.6,290.0 1143.4,290.7 C1146.2,291.4 1150.7,294.3 1153.5,294.6 C1156.3,294.9 1158.0,293.9 1160.2,292.4 C1162.4,290.9 1164.1,288.8 1166.9,285.7 C1169.7,282.6 1173.7,277.7 1177.0,274.0 C1180.3,270.3 1183.7,268.0 1187.0,263.5 C1190.3,259.0 1194.3,251.8 1197.1,247.1 C1199.9,242.4 1201.6,239.5 1203.8,235.6 C1206.0,231.7 1208.3,227.0 1210.5,223.8 C1212.7,220.6 1214.8,218.9 1217.2,216.5 C1219.6,214.1 1222.4,211.4 1225.0,209.2 C1227.6,207.0 1230.1,205.1 1232.7,203.1 C1235.3,201.1 1237.8,198.7 1240.4,196.9 C1243.0,195.1 1246.0,193.3 1248.1,192.3 C1250.1,191.3 1250.8,191.0 1252.7,190.8 C1254.6,190.6 1257.3,191.0 1259.6,190.9 C1261.9,190.8 1264.6,191.0 1266.5,190.5 C1268.4,190.0 1269.8,189.1 1271.2,188.1 C1272.6,187.1 1273.7,186.0 1275.0,184.6 C1276.3,183.2 1277.4,181.0 1278.8,179.4 C1280.2,177.8 1281.6,176.4 1283.5,175.2 C1285.4,174.0 1287.9,173.2 1290.4,172.4 C1293.0,171.6 1296.9,170.6 1298.8,170.3 C1300.7,170.1 1300.7,170.4 1301.9,170.9 C1303.1,171.4 1305.2,173.1 1305.8,173.5" fill="none" stroke="#dc4a44" stroke-opacity="0.85" stroke-width="1.3" stroke-linejoin="round"/>
</g>
<text x="80" y="124.5" font-size="23.6" fill="#000" stroke="#000" stroke-width="0.75" textLength="116.5" lengthAdjust="spacingAndGlyphs">Gold Daily</text>
<text x="345" y="517" font-size="16.5" fill="#d6101c" textLength="89.5" lengthAdjust="spacingAndGlyphs">21-day EMA</text>
<text x="1132" y="511" font-size="17.6" fill="#1414c4" stroke="#1414c4" stroke-width="0.75" textLength="103.5" lengthAdjust="spacingAndGlyphs">200-day SMA</text>
<text x="1218" y="55.8" font-size="14.5" fill="#22ad48" textLength="98" lengthAdjust="spacingAndGlyphs">April 2025 ATH</text>
<g transform="translate(14,638.4) scale(1.05)" fill="#000"><path d="M14 22H7V11H0V4h14v18zM28 22h-8l7.5-18h8L28 22z"/><circle cx="20" cy="8" r="4"/></g>
<rect x="1349" y="1" width="1" height="711" fill="#333"/>
<rect x="1" y="679" width="1430" height="1" fill="#333"/>
<text x="1419.8" y="21.2" text-anchor="end" fill="#505050" font-size="15.5" stroke="#505050" stroke-width="0.3" textLength="59.3" lengthAdjust="spacingAndGlyphs">3,600.00</text>
<text x="1419.8" y="166.0" text-anchor="end" fill="#505050" font-size="15.5" stroke="#505050" stroke-width="0.3" textLength="59.3" lengthAdjust="spacingAndGlyphs">3,300.00</text>
<text x="1419.8" y="262.5" text-anchor="end" fill="#505050" font-size="15.5" stroke="#505050" stroke-width="0.3" textLength="59.3" lengthAdjust="spacingAndGlyphs">3,100.00</text>
<text x="1419.8" y="359.1" text-anchor="end" fill="#505050" font-size="15.5" stroke="#505050" stroke-width="0.3" textLength="59.3" lengthAdjust="spacingAndGlyphs">2,900.00</text>
<text x="1419.8" y="407.3" text-anchor="end" fill="#505050" font-size="15.5" stroke="#505050" stroke-width="0.3" textLength="59.3" lengthAdjust="spacingAndGlyphs">2,800.00</text>
<text x="1419.8" y="455.6" text-anchor="end" fill="#505050" font-size="15.5" stroke="#505050" stroke-width="0.3" textLength="59.3" lengthAdjust="spacingAndGlyphs">2,700.00</text>
<text x="1419.8" y="503.8" text-anchor="end" fill="#505050" font-size="15.5" stroke="#505050" stroke-width="0.3" textLength="59.3" lengthAdjust="spacingAndGlyphs">2,600.00</text>
<text x="1419.8" y="552.1" text-anchor="end" fill="#505050" font-size="15.5" stroke="#505050" stroke-width="0.3" textLength="59.3" lengthAdjust="spacingAndGlyphs">2,500.00</text>
<text x="1419.8" y="600.4" text-anchor="end" fill="#505050" font-size="15.5" stroke="#505050" stroke-width="0.3" textLength="59.3" lengthAdjust="spacingAndGlyphs">2,400.00</text>
<text x="1419.8" y="648.6" text-anchor="end" fill="#505050" font-size="15.5" stroke="#505050" stroke-width="0.3" textLength="59.3" lengthAdjust="spacingAndGlyphs">2,300.00</text>
<path d="M1350,33.3 h72.3 a2.5,2.5 0 0 1 2.5,2.5 v15.8 a2.5,2.5 0 0 1 -2.5,2.5 h-72.3 z" fill="#0bb83a"/><text x="1419.8" y="48.7" text-anchor="end" fill="#e8ffe8" font-size="15.5" stroke="#e8ffe8" stroke-width="0.3" textLength="59.3" lengthAdjust="spacingAndGlyphs">3,500.10</text>
<path d="M1350,54.1 h72.3 a2.5,2.5 0 0 1 2.5,2.5 v15.8 a2.5,2.5 0 0 1 -2.5,2.5 h-72.3 z" fill="#139682"/><text x="1419.8" y="69.5" text-anchor="end" fill="#e0fff8" font-size="15.5" stroke="#e0fff8" stroke-width="0.3" textLength="59.3" lengthAdjust="spacingAndGlyphs">3,500.00</text>
<path d="M1350,101.2 h72.3 a2.5,2.5 0 0 1 2.5,2.5 v15.8 a2.5,2.5 0 0 1 -2.5,2.5 h-72.3 z" fill="#e8344a"/><text x="1419.8" y="116.6" text-anchor="end" fill="#fff" font-size="15.5" stroke="#fff" stroke-width="0.3" textLength="59.3" lengthAdjust="spacingAndGlyphs">3,400.00</text>
<path d="M1350,122.0 h72.3 a2.5,2.5 0 0 1 2.5,2.5 v15.8 a2.5,2.5 0 0 1 -2.5,2.5 h-72.3 z" fill="#e8344a"/><text x="1419.8" y="137.4" text-anchor="end" fill="#fff" font-size="15.5" stroke="#fff" stroke-width="0.3" textLength="59.3" lengthAdjust="spacingAndGlyphs">3,360.00</text>
<path d="M1350,166.2 h72.3 a2.5,2.5 0 0 1 2.5,2.5 v15.8 a2.5,2.5 0 0 1 -2.5,2.5 h-72.3 z" fill="#e8344a"/><text x="1419.8" y="181.6" text-anchor="end" fill="#fff" font-size="15.5" stroke="#fff" stroke-width="0.3" textLength="59.3" lengthAdjust="spacingAndGlyphs">3,269.32</text>
<path d="M1350,193.6 h72.3 a2.5,2.5 0 0 1 2.5,2.5 v15.8 a2.5,2.5 0 0 1 -2.5,2.5 h-72.3 z" fill="#000"/><text x="1419.8" y="209.0" text-anchor="end" fill="#fff" font-size="15.5" stroke="#fff" stroke-width="0.3" textLength="59.3" lengthAdjust="spacingAndGlyphs">3,202.08</text>
<path d="M1350,214.4 h72.3 a2.5,2.5 0 0 1 2.5,2.5 v15.8 a2.5,2.5 0 0 1 -2.5,2.5 h-72.3 z" fill="#17b5d6"/><text x="1419.8" y="229.8" text-anchor="end" fill="#0b1a26" font-size="15.5" stroke="#0b1a26" stroke-width="0.3" textLength="59.3" lengthAdjust="spacingAndGlyphs">3,167.86</text>
<path d="M1350,273.8 h72.3 a2.5,2.5 0 0 1 2.5,2.5 v15.8 a2.5,2.5 0 0 1 -2.5,2.5 h-72.3 z" fill="#17b5d6"/><text x="1419.8" y="289.2" text-anchor="end" fill="#0b1a26" font-size="15.5" stroke="#0b1a26" stroke-width="0.3" textLength="59.3" lengthAdjust="spacingAndGlyphs">3,022.72</text>
<path d="M1350,295.6 h72.3 a2.5,2.5 0 0 1 2.5,2.5 v15.8 a2.5,2.5 0 0 1 -2.5,2.5 h-72.3 z" fill="#0bb83a"/><text x="1419.8" y="311.0" text-anchor="end" fill="#e8ffe8" font-size="15.5" stroke="#e8ffe8" stroke-width="0.3" textLength="59.3" lengthAdjust="spacingAndGlyphs">3,000.00</text>
<path d="M1350,316.8 h72.3 a2.5,2.5 0 0 1 2.5,2.5 v15.8 a2.5,2.5 0 0 1 -2.5,2.5 h-72.3 z" fill="#000"/><text x="1419.8" y="332.2" text-anchor="end" fill="#fff" font-size="15.5" stroke="#fff" stroke-width="0.3" textLength="59.3" lengthAdjust="spacingAndGlyphs">2,956.79</text>
<path d="M1350,396.8 h72.3 a2.5,2.5 0 0 1 2.5,2.5 v15.8 a2.5,2.5 0 0 1 -2.5,2.5 h-72.3 z" fill="#2962ff"/><text x="1419.8" y="412.2" text-anchor="end" fill="#fff" font-size="15.5" stroke="#fff" stroke-width="0.3" textLength="59.3" lengthAdjust="spacingAndGlyphs">2,790.11</text>
<text x="0.5" y="702" text-anchor="middle" fill="#4a4a4a" font-size="14.5">Aug</text>
<text x="145.3" y="702" text-anchor="middle" fill="#4a4a4a" font-size="14.5">Sep</text>
<text x="282.8" y="702" text-anchor="middle" fill="#4a4a4a" font-size="14.5">Oct</text>
<text x="433.4" y="702" text-anchor="middle" fill="#4a4a4a" font-size="14.5">Nov</text>
<text x="571.3" y="702" text-anchor="middle" fill="#4a4a4a" font-size="14.5">Dec</text>
<text x="709" y="702" text-anchor="middle" fill="#4a4a4a" font-size="14.5" font-weight="bold">2025</text>
<text x="853.3" y="702" text-anchor="middle" fill="#4a4a4a" font-size="14.5">Feb</text>
<text x="983.5" y="702" text-anchor="middle" fill="#4a4a4a" font-size="14.5">Mar</text>
<text x="1121.2" y="702" text-anchor="middle" fill="#4a4a4a" font-size="14.5">Apr</text>
<text x="1259" y="702" text-anchor="middle" fill="#4a4a4a" font-size="14.5">May</text>
<g transform="translate(1391.5,697)" fill="none" stroke="#222" stroke-width="1.3"><path d="M-9,0 L-4.5,-7.8 L4.5,-7.8 L9,0 L4.5,7.8 L-4.5,7.8 Z"/><circle r="2.3"/></g>
<path fill-rule="evenodd" fill="#2b2b2e" d="M4,0 H1428 A4,4 0 0 1 1432,4 V709 A4,4 0 0 1 1428,713 H4 A4,4 0 0 1 0,709 V4 A4,4 0 0 1 4,0 Z M4,1.8 A3,3 0 0 0 1,4.8 V708.8 A3,3 0 0 0 4,711.8 H1427 A3,3 0 0 0 1430,708.8 V4.8 A3,3 0 0 0 1427,1.8 Z"/>
</svg>
</body></html>
